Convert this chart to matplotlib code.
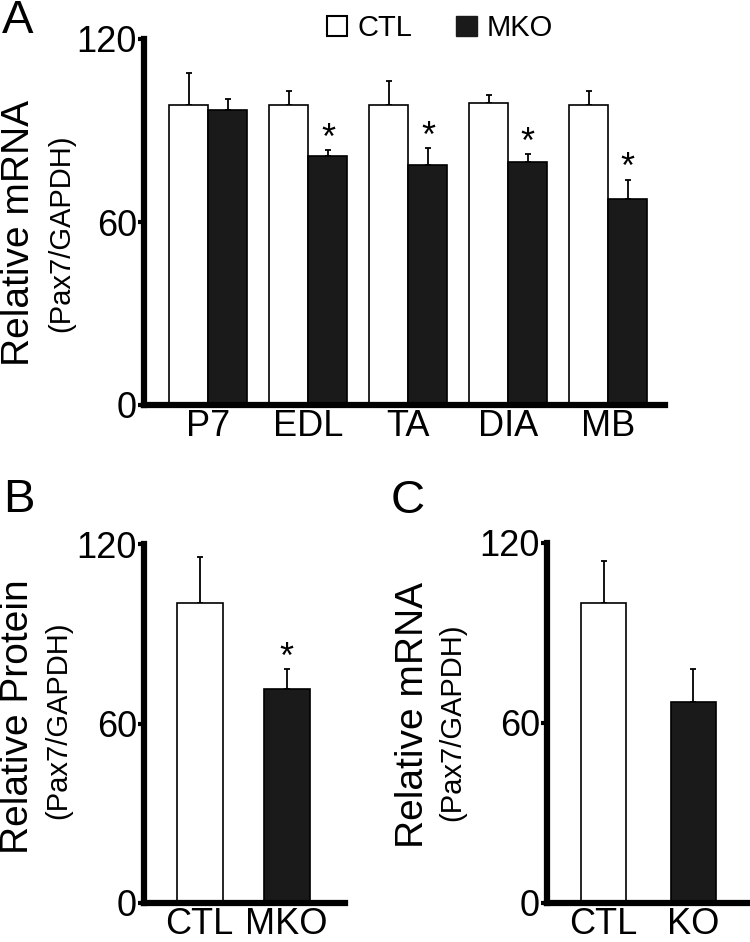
import matplotlib
matplotlib.use("Agg")
import matplotlib.pyplot as plt
import numpy as np

plt.rcParams["font.family"] = ["Liberation Sans", "DejaVu Sans"]

# Panel A: relative mRNA by tissue
tissues = ["P7", "EDL", "TA", "DIA", "MB"]
a_ctl = [98.5, 98.5, 98.5, 98.9, 98.4]
a_ctl_err = [10.2, 4.5, 7.6, 2.8, 4.4]
a_mko = [96.7, 81.7, 78.7, 79.6, 67.6]
a_mko_err = [3.5, 1.9, 5.5, 2.6, 6.3]
a_sig = ["", "*", "*", "*", "*"]

# Panel B: relative protein
b_groups = ["CTL", "MKO"]
b_vals = [100.2, 71.4]
b_err = [15.5, 6.7]
b_sig = ["", "*"]

# Panel C: relative mRNA
c_groups = ["CTL", "KO"]
c_vals = [100.0, 67.1]
c_err = [13.9, 10.9]

yticks = [0, 60, 120]

W, H = 750, 942
fig = plt.figure(figsize=(W / 100, H / 100), dpi=100)


def px_axes(x0, y_top, x1, y_bot):
    return fig.add_axes([x0 / W, 1 - y_bot / H, (x1 - x0) / W, (y_bot - y_top) / H])


def ftext(x, y, s, **kw):
    fig.text(x / W, 1 - y / H, s, **kw)


def style(ax):
    for side in ("top", "right"):
        ax.spines[side].set_visible(False)
    for side in ("left", "bottom"):
        ax.spines[side].set_linewidth(4.5)
        ax.spines[side].set_zorder(5)
    ax.set_ylim(0, 120)
    ax.set_yticks(yticks)
    ax.tick_params(axis="y", direction="out", length=4, width=3, labelsize=26, pad=1)
    ax.tick_params(axis="x", length=0, labelsize=26, pad=3)


def bars(ax, x, vals, err, width, color):
    ax.errorbar(x, vals, yerr=[np.zeros(len(vals)), err], fmt="none", ecolor="black",
                elinewidth=1.3, capsize=2, capthick=1.3, zorder=2)
    ax.bar(x, vals, width=width, color=color, edgecolor="black", linewidth=1.2, zorder=3)


EDGE_DARK = "#1a1a1a"

# --- A ---
axA = px_axes(144, 39, 665, 405)
style(axA)
xa = np.arange(len(tissues))
wa = 0.39
bars(axA, xa - wa / 2, a_ctl, a_ctl_err, wa, "white")
bars(axA, xa + wa / 2, a_mko, a_mko_err, wa, EDGE_DARK)
for i, s in enumerate(a_sig):
    if s:
        axA.text(xa[i] + wa / 2, a_mko[i] + a_mko_err[i] + 3.5, s, ha="center", va="center",
                 fontsize=26)
axA.set_xticks(xa)
axA.set_xticklabels(tissues)
axA.set_xlim(-0.645, len(tissues) - 1 + 0.567)

h_ctl = plt.Rectangle((0, 0), 1, 1, facecolor="white", edgecolor="black", linewidth=1.5)
h_mko = plt.Rectangle((0, 0), 1, 1, facecolor=EDGE_DARK, edgecolor=EDGE_DARK)
fig.legend([h_ctl, h_mko], ["CTL", "MKO"], loc="center", bbox_to_anchor=(440 / W, 1 - 28 / H),
           ncol=2, frameon=False, fontsize=21, handlelength=0.7, handleheight=0.7,
           handletextpad=0.35, columnspacing=1.5, borderpad=0)

ftext(19, 233, "Relative mRNA", rotation=90, ha="center", va="center", fontsize=28)
ftext(61, 233, "(Pax7/GAPDH)", rotation=90, ha="center", va="center", fontsize=21)
ftext(2, 21, "A", ha="left", va="center", fontsize=34)

# --- B ---
axB = px_axes(144, 544, 345, 903)
style(axB)
xb = np.arange(len(b_groups))
bars(axB, xb, b_vals, b_err, 0.53, ["white", EDGE_DARK])
for i, s in enumerate(b_sig):
    if s:
        axB.text(xb[i], b_vals[i] + b_err[i] + 3.5, s, ha="center", va="center", fontsize=26)
axB.set_xticks(xb)
axB.set_xticklabels(b_groups)
axB.set_xlim(-0.64, 1.67)

ftext(18, 717, "Relative Protein", rotation=90, ha="center", va="center", fontsize=28)
ftext(58, 720, "(Pax7/GAPDH)", rotation=90, ha="center", va="center", fontsize=21)
ftext(3, 500, "B", ha="left", va="center", fontsize=34)

# --- C ---
axC = px_axes(547, 543, 750, 903)
style(axC)
xc = np.arange(len(c_groups))
bars(axC, xc, c_vals, c_err, 0.51, ["white", EDGE_DARK])
axC.set_xticks(xc)
axC.set_xticklabels(c_groups)
axC.set_xlim(-0.63, 1.63)

ftext(413, 715, "Relative mRNA", rotation=90, ha="center", va="center", fontsize=28)
ftext(452, 722, "(Pax7/GAPDH)", rotation=90, ha="center", va="center", fontsize=21)
ftext(391, 501, "C", ha="left", va="center", fontsize=34)

fig.savefig("out.png", dpi=100, facecolor="white")
